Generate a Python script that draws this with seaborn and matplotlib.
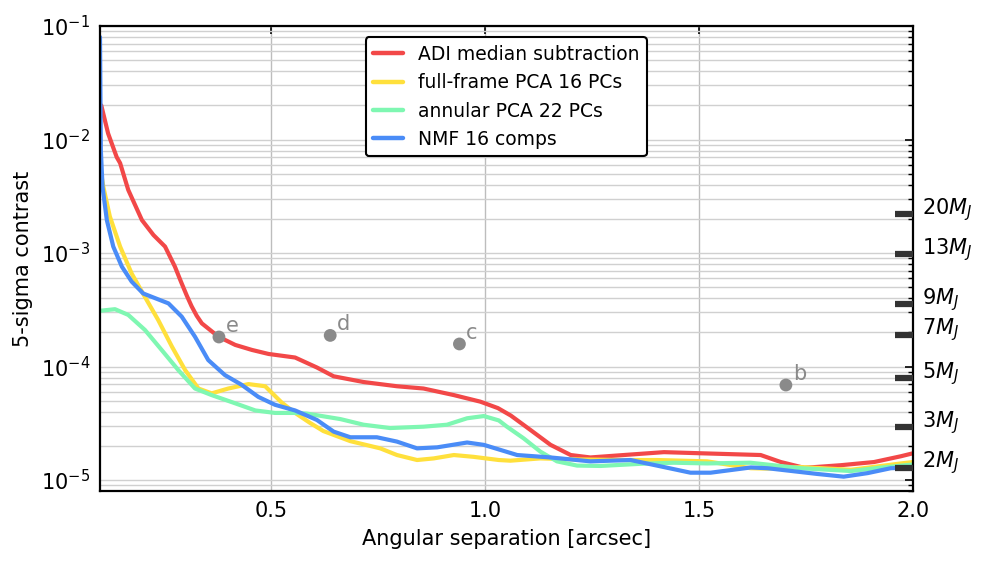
import numpy as np
import pandas as pd
import matplotlib
matplotlib.use("Agg")
import matplotlib.pyplot as plt
import seaborn as sns

# ---------------- data ----------------
methods = ["ADI median subtraction", "full-frame PCA 16 PCs",
           "annular PCA 22 PCs", "NMF 16 comps"]
colors = ["#f24848", "#ffe03c", "#7ff7b2", "#4a8cf7"]

adi_sep = [0.103, 0.119, 0.139, 0.147, 0.166, 0.198, 0.225, 0.252, 0.275, 0.29,
           0.303, 0.314, 0.326, 0.338, 0.377, 0.416, 0.455, 0.494, 0.521, 0.556,
           0.607, 0.646, 0.716, 0.794, 0.856, 0.927, 0.989, 1.03, 1.06,
           1.106, 1.153, 1.2, 1.246, 1.324, 1.418, 1.504, 1.644, 1.691, 1.746,
           1.831, 1.909, 1.972, 2.0]
adi_con = [2.0e-2, 1.13e-2, 7.0e-3, 6.2e-3, 3.6e-3, 1.95e-3, 1.44e-3, 1.14e-3, 7.6e-4, 5.5e-4,
           4.2e-4, 3.4e-4, 2.8e-4, 2.4e-4, 1.83e-4, 1.55e-4, 1.4e-4, 1.29e-4, 1.25e-4, 1.2e-4,
           9.8e-5, 8.2e-5, 7.3e-5, 6.7e-5, 6.4e-5, 5.6e-5, 4.9e-5, 4.3e-5, 3.7e-5,
           2.76e-5, 2.04e-5, 1.66e-5, 1.58e-5, 1.66e-5, 1.76e-5, 1.72e-5, 1.66e-5, 1.44e-5, 1.28e-5,
           1.35e-5, 1.44e-5, 1.62e-5, 1.72e-5]

ffpca_sep = [0.101, 0.108, 0.123, 0.147, 0.174, 0.205, 0.236, 0.268, 0.299, 0.33,
             0.361, 0.4, 0.447, 0.486, 0.525, 0.556, 0.59, 0.622, 0.685, 0.755,
             0.794, 0.841, 0.88, 0.927, 0.973, 1.032, 1.059, 1.129, 1.207, 1.324,
             1.402, 1.519, 1.621, 1.66, 1.738, 1.855, 1.972, 2.0]
ffpca_con = [5.5e-3, 3.8e-3, 2.1e-3, 1.14e-3, 6.6e-4, 4.1e-4, 2.57e-4, 1.5e-4, 9.3e-5, 6.4e-5,
             5.8e-5, 6.4e-5, 7.0e-5, 6.7e-5, 4.8e-5, 3.9e-5, 3.2e-5, 2.7e-5, 2.2e-5, 1.9e-5,
             1.66e-5, 1.5e-5, 1.55e-5, 1.66e-5, 1.6e-5, 1.5e-5, 1.48e-5, 1.55e-5, 1.52e-5, 1.5e-5,
             1.5e-5, 1.46e-5, 1.27e-5, 1.26e-5, 1.3e-5, 1.23e-5, 1.4e-5, 1.44e-5]

apca_sep = [0.101, 0.135, 0.166, 0.205, 0.244, 0.283, 0.322, 0.361, 0.416, 0.463,
            0.509, 0.556, 0.583, 0.662, 0.716, 0.778, 0.856, 0.911, 0.958, 0.997,
            1.032, 1.051, 1.09, 1.129, 1.168, 1.215, 1.27, 1.364, 1.441, 1.519,
            1.62, 1.738, 1.855, 1.92, 2.0]
apca_con = [3.1e-4, 3.2e-4, 2.85e-4, 2.1e-4, 1.4e-4, 9.3e-5, 6.4e-5, 5.6e-5, 4.74e-5, 4.1e-5,
            3.9e-5, 3.9e-5, 3.85e-5, 3.44e-5, 3.07e-5, 2.87e-5, 2.95e-5, 3.07e-5, 3.5e-5, 3.66e-5,
            3.35e-5, 2.95e-5, 2.33e-5, 1.78e-5, 1.46e-5, 1.34e-5, 1.33e-5, 1.39e-5, 1.42e-5, 1.4e-5,
            1.42e-5, 1.27e-5, 1.2e-5, 1.28e-5, 1.37e-5]

nmf_sep = [0.1, 0.101, 0.102, 0.106, 0.116, 0.131, 0.151, 0.174, 0.201, 0.229,
           0.26, 0.291, 0.322, 0.353, 0.392, 0.431, 0.47, 0.509, 0.556,
           0.607, 0.646, 0.685, 0.747, 0.794, 0.841, 0.888, 0.958, 0.997, 1.032,
           1.075, 1.153, 1.246, 1.34, 1.418, 1.48, 1.527, 1.621, 1.66, 1.777,
           1.838, 1.894, 1.948, 2.0]
nmf_con = [8e-2, 2.5e-2, 8e-3, 3.8e-3, 1.95e-3, 1.14e-3, 7.6e-4, 5.6e-4, 4.4e-4, 4.0e-4,
           3.6e-4, 2.75e-4, 1.83e-4, 1.14e-4, 8.4e-5, 6.9e-5, 5.4e-5, 4.6e-5, 4.1e-5,
           3.38e-5, 2.67e-5, 2.38e-5, 2.38e-5, 2.18e-5, 1.9e-5, 1.94e-5, 2.14e-5, 2.04e-5, 1.86e-5,
           1.66e-5, 1.58e-5, 1.46e-5, 1.5e-5, 1.3e-5, 1.16e-5, 1.16e-5, 1.29e-5, 1.27e-5, 1.13e-5,
           1.07e-5, 1.15e-5, 1.27e-5, 1.29e-5]

planet_names = ["e", "d", "c", "b"]
planet_sep = [0.378, 0.638, 0.94, 1.703]
planet_con = [1.82e-4, 1.88e-4, 1.58e-4, 6.87e-5]

mass_labels = ["20", "13", "9", "7", "5", "3", "2"]
mass_con = [2.21e-3, 9.8e-4, 3.56e-4, 1.9e-4, 7.9e-5, 2.93e-5, 1.28e-5]

xticks = [0.5, 1.0, 1.5, 2.0]
xticklabels = ["0.5", "1.0", "1.5", "2.0"]

# ---------------- figure ----------------
sns.set_style("white")
plt.rcParams["font.family"] = ["DejaVu Sans"]
plt.rcParams["mathtext.fontset"] = "dejavusans"
plt.rcParams["text.color"] = "black"
plt.rcParams["axes.labelcolor"] = "black"
plt.rcParams["xtick.color"] = "black"
plt.rcParams["ytick.color"] = "black"

fig = plt.figure(figsize=(9.94, 5.66), dpi=100)
ax = fig.add_axes([0.1006, 0.1325, 0.8179, 0.8215])

series = [(adi_sep, adi_con), (ffpca_sep, ffpca_con), (apca_sep, apca_con), (nmf_sep, nmf_con)]
frames = []
for name, (s, c) in zip(methods, series):
    frames.append(pd.DataFrame({"sep": s, "contrast": c, "method": name}))
df = pd.concat(frames, ignore_index=True)

sns.lineplot(data=df, x="sep", y="contrast", hue="method", hue_order=methods,
             palette=colors, estimator=None, sort=False, linewidth=3.0, ax=ax,
             legend=True, solid_joinstyle="round", solid_capstyle="round")

ax.set_yscale("log")
ax.set_xlim(0.1, 2.0)
ax.set_ylim(8e-6, 1e-1)

# planets
sns.scatterplot(x=planet_sep, y=planet_con, color="#8a8a8a", s=85, edgecolor="none",
                ax=ax, legend=False, zorder=5)
for n, s, c in zip(planet_names, planet_sep, planet_con):
    ax.annotate(n, (s, c), xytext=(5, 1), textcoords="offset points",
                ha="left", va="bottom", fontsize=15, color="#8a8a8a")

# mass ticks on the right
ytr = ax.get_yaxis_transform()
ax.hlines(mass_con, 0.978, 1.0, transform=ytr, colors="#333333", linewidth=4.5,
          zorder=6, clip_on=False)
for m, c in zip(mass_labels, mass_con):
    ax.text(1.011, c, m + r"$M_J$", transform=ytr, ha="left", va="baseline",
            fontsize=15, color="black", clip_on=False)

# axes styling
ax.set_xticks(xticks)
ax.set_xticklabels(xticklabels)
ax.grid(which="major", axis="x", color="#bdbdbd", linewidth=1.0)
ax.grid(which="both", axis="y", color="#d0d0d0", linewidth=1.0)
ax.set_axisbelow(True)
ax.tick_params(which="both", direction="in", top=True, right=True, labelsize=15,
               colors="black")
ax.tick_params(which="major", length=6, width=1.2, pad=7)
ax.tick_params(which="minor", length=3.5, width=1.0)
for sp in ax.spines.values():
    sp.set_linewidth(1.6)
    sp.set_color("black")

ax.set_xlabel("Angular separation [arcsec]", fontsize=15, labelpad=6, color="black")
ax.set_ylabel("5-sigma contrast", fontsize=15, labelpad=6, color="black")

handles, labels = ax.get_legend_handles_labels()
leg = ax.legend(handles, labels, loc="upper center", fontsize=13.5, frameon=True,
                fancybox=True, framealpha=1, edgecolor="black", handlelength=1.6,
                borderaxespad=0.6, labelcolor="black")
leg.get_frame().set_linewidth(1.5)
for h in leg.get_lines():
    h.set_linewidth(3.2)

fig.savefig("out.png", dpi=100)
